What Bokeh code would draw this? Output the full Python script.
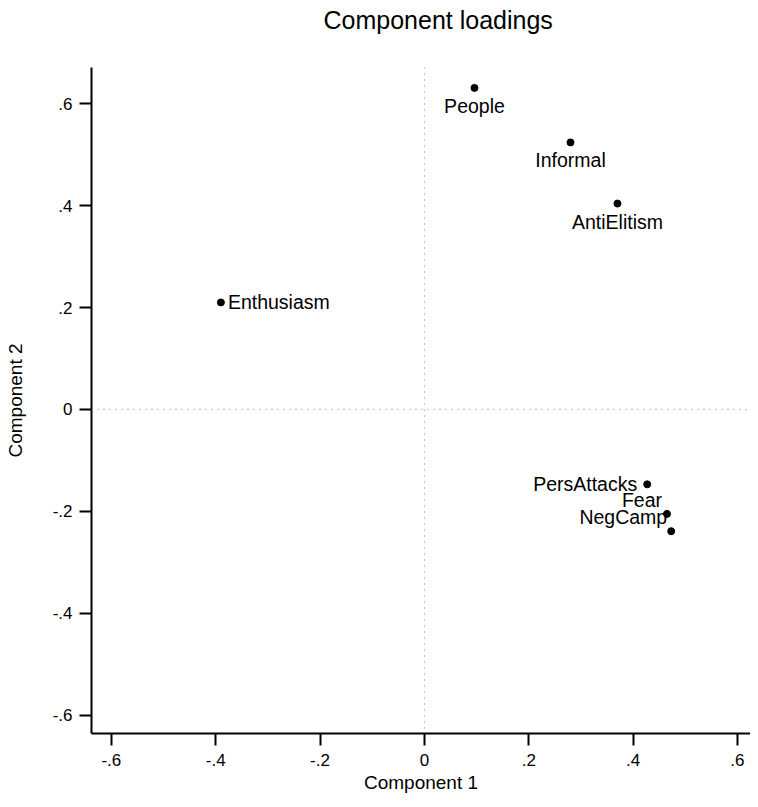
from bokeh.plotting import figure
from bokeh.models import Range1d, FixedTicker, Span, ColumnDataSource
from bokeh.core.properties import value
from bokeh.embed import file_html
from bokeh.resources import INLINE

# ---- data ----
names = ["People", "Informal", "AntiElitism", "Enthusiasm", "PersAttacks", "Fear", "NegCamp"]
comp1 = [0.096, 0.280, 0.370, -0.390, 0.427, 0.465, 0.473]
comp2 = [0.631, 0.524, 0.404, 0.210, -0.147, -0.205, -0.239]
tick_vals = [-0.6, -0.4, -0.2, 0.0, 0.2, 0.4, 0.6]
tick_labels = ["-.6", "-.4", "-.2", "0", ".2", ".4", ".6"]
title_text = "Component loadings"

# label placement (style): align, x offset, y offset (px)
placement = {
    "People": ("center", 0, 18),
    "Informal": ("center", 0, 18),
    "AntiElitism": ("center", 0, 18),
    "Enthusiasm": ("left", 7, 0),
    "PersAttacks": ("right", -10, 0),
    "Fear": ("right", -5, -14),
    "NegCamp": ("right", -4, -14),
}

FONT = "Liberation Sans"
XMIN, XMAX = -0.638, 0.625
YMIN, YMAX = -0.636, 0.671

p = figure(width=750, height=799, output_backend="svg", toolbar_location=None,
           x_range=Range1d(XMIN, XMAX), y_range=Range1d(YMIN, YMAX),
           min_border_left=91, min_border_right=0, min_border_top=67, min_border_bottom=66,
           title=title_text + "\n")
p.title.align = "left"
p.title.offset = 232
p.title.standoff = 5
p.title.text_line_height = 1.1
p.title.text_font = FONT
p.title.text_font_size = "25px"
p.title.text_font_style = "normal"
p.title.text_color = "black"

p.grid.visible = False
p.outline_line_color = None
p.background_fill_color = "white"
p.border_fill_color = "white"

for ax in (p.xaxis[0], p.yaxis[0]):
    ax.ticker = FixedTicker(ticks=tick_vals)
    ax.major_label_overrides = {v: l for v, l in zip(tick_vals, tick_labels)}
    ax.minor_tick_line_color = None
    ax.major_tick_in = 0
    ax.major_tick_out = 12
    ax.major_tick_line_width = 2
    ax.axis_line_width = 2
    ax.axis_line_color = "black"
    ax.major_tick_line_color = "black"
    ax.major_label_text_font = FONT
    ax.major_label_text_font_size = "17px"
    ax.major_label_text_color = "black"
    ax.axis_label_text_font = FONT
    ax.axis_label_text_font_size = "19px"
    ax.axis_label_text_font_style = "normal"
    ax.axis_label_text_color = "black"

p.xaxis[0].axis_label = "Component 1"
p.yaxis[0].axis_label = "Component 2"
p.yaxis[0].major_label_orientation = "horizontal"
p.xaxis[0].major_label_standoff = 8
p.xaxis[0].axis_label_standoff = 3
p.yaxis[0].major_label_standoff = 7
p.yaxis[0].axis_label_standoff = 24

p.add_layout(Span(location=0, dimension="width", line_color="#808080",
                  line_width=1, line_dash="1 5"))
p.add_layout(Span(location=0, dimension="height", line_color="#808080",
                  line_width=1, line_dash="1 5"))

src = ColumnDataSource(dict(
    x=comp1, y=comp2, name=names,
    align=[placement[n][0] for n in names],
    xo=[placement[n][1] for n in names],
    yo=[placement[n][2] for n in names],
))

p.scatter("x", "y", source=src, size=7, color="black")
p.text("x", "y", text="name", source=src, text_align="align", text_baseline="middle",
       x_offset="xo", y_offset="yo", text_font=value(FONT), text_font_size="19.5px",
       text_color="black")

open("out.html", "w").write(file_html(p, INLINE))
